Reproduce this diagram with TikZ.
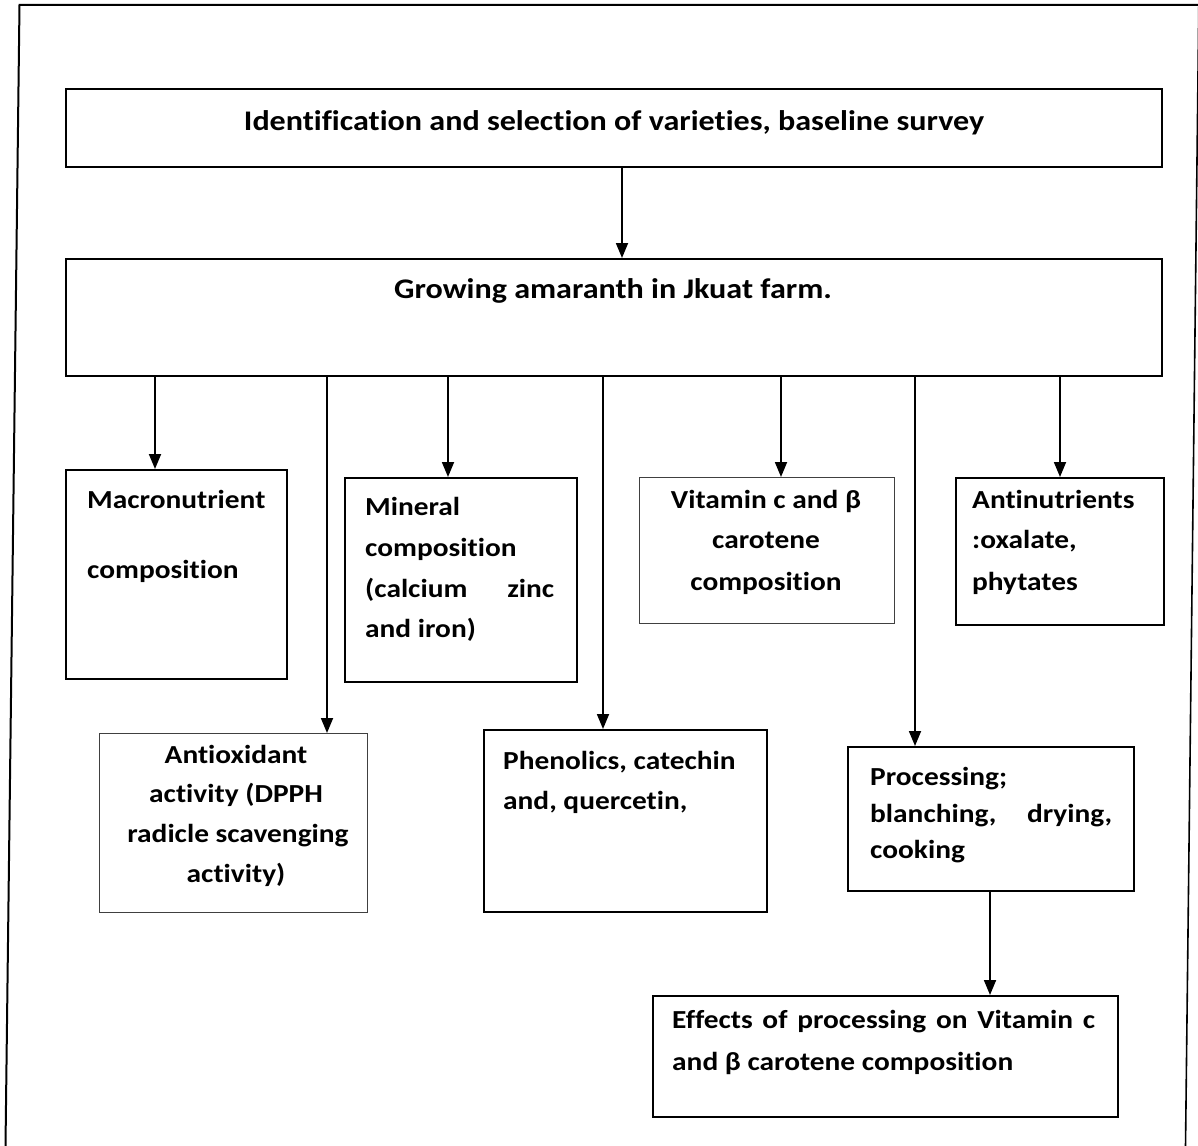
\documentclass[tikz,border=0pt]{standalone}
\usepackage{fontspec}
\setmainfont{Carlito}[FakeStretch=1.13,Ligatures=NoCommon]
\usetikzlibrary{arrows.meta}
\newcommand{\fs}{\fontsize{26}{32}\selectfont\bfseries}
\newcommand{\fsbig}{\fontsize{28.4}{34}\selectfont\bfseries}
\begin{document}
\begin{tikzpicture}[x=1pt,y=-1pt,
  box/.style={draw, line width=1.8pt, inner sep=0pt, anchor=north west},
  lbox/.style={draw=black!75, line width=1pt, inner sep=0pt, anchor=north west},
  txt/.style={font=\fs, inner sep=0pt, anchor=base west},
  ctxt/.style={font=\fs, inner sep=0pt, anchor=base},
  btxt/.style={font=\fsbig, inner sep=0pt, anchor=base},
  arr/.style={line width=1.8pt, -{Triangle[length=15pt,width=12pt]}}]
\useasboundingbox (0,0) rectangle (1198,1145);
% outer frame
\draw[line width=2pt] (1199,5) -- (19.5,5) -- (5.5,1146);
\draw[line width=1.6pt] (1198.8,5) -- (1185.5,1146);
% boxes
\node[box, minimum width=1096pt, minimum height=78pt] (sel) at (65,88) {};
\node[box, minimum width=1096pt, minimum height=117pt] (grow) at (65,258) {};
\node[box, minimum width=221pt, minimum height=209pt] (mac) at (65,469) {};
\node[box, minimum width=232pt, minimum height=204pt] (mine) at (344,477) {};
\node[lbox, minimum width=255pt, minimum height=146pt] (vit) at (639,477) {};
\node[box, minimum width=208pt, minimum height=147pt] (anti) at (955,477) {};
\node[lbox, minimum width=268pt, minimum height=179pt] (aox) at (99,733) {};
\node[box, minimum width=283pt, minimum height=182pt] (phen) at (483,729) {};
\node[box, minimum width=286pt, minimum height=144pt] (proc) at (847,746) {};
\node[box, minimum width=465pt, minimum height=121pt] (eff) at (652,995) {};
% texts
\node[btxt] (t1) at (614,130) {Identification and selection of varieties, baseline survey};
\node[btxt] (t2) at (613,298) {Growing amaranth in Jkuat farm.};
\node[txt] (t3) at (87,508) {Macronutrient};
\node[txt] (t4) at (87,578) {composition};
\node[txt] (t5) at (365,515) {Mineral};
\node[txt] (t6) at (365,556) {composition};
\node[txt] (t7) at (365,597) {\makebox[189pt][s]{(calcium zinc}};
\node[txt] (t8) at (365,637) {and iron)};
\node[ctxt] (t9) at (766,508) {Vitamin c and β};
\node[ctxt] (t10) at (766,548) {carotene};
\node[ctxt] (t11) at (766,590) {composition};
\node[txt] (t12) at (972,508) {Antinutrients};
\node[txt] (t13) at (972,548) {:oxalate,};
\node[txt] (t14) at (972,590) {phytates};
\node[ctxt] (t15) at (236,763) {Antioxidant};
\node[ctxt] (t16) at (236,802) {activity (DPPH};
\node[ctxt] (t17) at (238,842) {radicle scavenging};
\node[ctxt] (t18) at (236,882) {activity)};
\node[txt] (t19) at (503,769) {Phenolics, catechin};
\node[txt] (t20) at (503,809) {and, quercetin,};
\node[txt] (t21) at (870,785) {Processing;};
\node[txt] (t22) at (870,822) {\makebox[242pt][s]{blanching, drying,}};
\node[txt] (t23) at (870,858) {cooking};
\node[txt] (t24) at (672,1028) {\makebox[423pt][s]{Effects of processing on Vitamin c}};
\node[txt] (t25) at (672,1070) {and β carotene composition};
% connector x positions
\coordinate (xa) at (622,0);
\coordinate (xb) at (155,0);
\coordinate (xc) at (327,0);
\coordinate (xd) at (448,0);
\coordinate (xe) at (603,0);
\coordinate (xf) at (781,0);
\coordinate (xg) at (915,0);
\coordinate (xh) at (1060,0);
\coordinate (xi) at (990,0);
% connectors
\draw[arr] (sel.south -| xa) -- (grow.north -| xa);
\draw[arr] (grow.south -| xb) -- (mac.north -| xb);
\draw[arr] (grow.south -| xc) -- (aox.north -| xc);
\draw[arr] (grow.south -| xd) -- (mine.north -| xd);
\draw[arr] (grow.south -| xe) -- (phen.north -| xe);
\draw[arr] (grow.south -| xf) -- (vit.north -| xf);
\draw[arr] (grow.south -| xg) -- (proc.north -| xg);
\draw[arr] (grow.south -| xh) -- (anti.north -| xh);
\draw[arr] (proc.south -| xi) -- (eff.north -| xi);
\end{tikzpicture}
\end{document}
